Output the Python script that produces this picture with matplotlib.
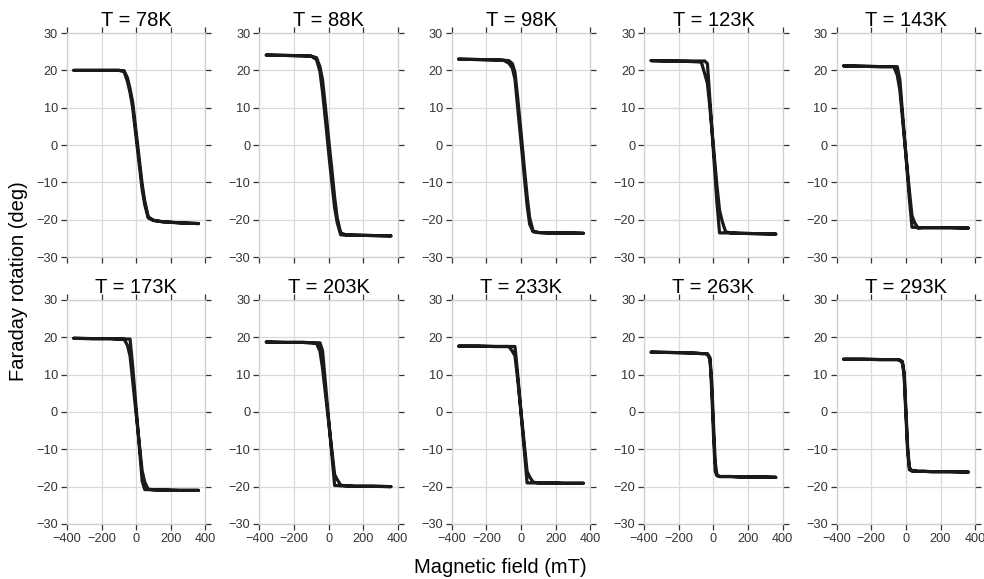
import numpy as np
import matplotlib.pyplot as plt

# temperatures of each panel (K)
temps = [78, 88, 98, 123, 143, 173, 203, 233, 263, 293]

# magnetic field sampling points (mT)
field = [-360, -250, -150, -100, -70, -50, -35, -20, -10, 0,
         10, 20, 35, 50, 70, 100, 150, 250, 360]

# Faraday rotation (deg), branch A (sharper) per temperature
rot_a = [
    [20.0, 20.0, 20.0, 20.0, 19.7, 17.0, 14.0, 10.0, 6.0, 2.0, -2.0, -6.0, -12.0, -16.0, -19.5, -20.2, -20.5, -20.8, -21.0],
    [24.1, 24.0, 23.9, 23.8, 22.9, 19.7, 14.2, 7.5, 3.0, -1.8, -6.2, -10.5, -16.8, -20.8, -24.0, -24.1, -24.1, -24.2, -24.3],
    [23.0, 22.9, 22.8, 22.7, 21.9, 20.6, 17.6, 10.4, 5.6, 0.8, -4.0, -8.9, -16.1, -21.2, -23.2, -23.4, -23.5, -23.5, -23.6],
    [22.6, 22.5, 22.5, 22.5, 22.5, 22.5, 21.8, 11.7, 4.9, -1.9, -8.7, -15.4, -23.5, -23.5, -23.5, -23.5, -23.6, -23.7, -23.8],
    [21.2, 21.1, 21.0, 21.0, 21.0, 21.0, 17.5, 8.8, 3.0, -2.8, -8.6, -14.4, -22.0, -22.0, -22.1, -22.1, -22.1, -22.1, -22.2],
    [19.7, 19.6, 19.6, 19.5, 19.5, 19.5, 19.5, 12.2, 6.6, 1.0, -4.6, -10.2, -18.6, -20.8, -20.8, -20.9, -20.9, -21.0, -21.0],
    [18.7, 18.6, 18.6, 18.5, 18.5, 18.5, 16.4, 8.6, 3.4, -1.8, -7.0, -12.0, -19.7, -19.7, -19.8, -19.8, -19.9, -19.9, -20.0],
    [17.6, 17.6, 17.5, 17.5, 17.5, 17.5, 17.5, 10.5, 5.1, -0.4, -5.7, -10.9, -19.0, -19.0, -19.0, -19.0, -19.0, -19.1, -19.1],
    [16.0, 15.9, 15.8, 15.7, 15.6, 15.6, 15.6, 14.5, 5.5, -6.0, -15.9, -17.1, -17.3, -17.3, -17.3, -17.3, -17.4, -17.4, -17.5],
    [14.1, 14.1, 14.0, 14.0, 14.0, 14.0, 13.9, 13.5, 9.3, -0.8, -10.6, -15.5, -15.8, -15.8, -15.9, -15.9, -16.0, -16.0, -16.1],
]

# branch B (rounder return sweep)
rot_b = [
    [20.0, 20.0, 20.0, 20.0, 19.9, 18.0, 15.0, 11.5, 7.5, 3.5, -0.5, -4.5, -10.5, -15.0, -19.2, -20.1, -20.5, -20.8, -21.0],
    [24.1, 24.0, 23.9, 23.8, 23.4, 21.0, 17.5, 11.0, 6.5, 1.8, -2.6, -7.0, -14.0, -19.5, -23.5, -24.0, -24.1, -24.2, -24.3],
    [23.0, 22.9, 22.8, 22.7, 22.6, 21.8, 19.5, 13.0, 8.2, 3.5, -1.5, -6.5, -13.5, -19.5, -23.0, -23.4, -23.5, -23.5, -23.6],
    [22.6, 22.5, 22.4, 22.3, 22.2, 19.0, 16.5, 9.8, 4.6, -0.5, -5.7, -10.8, -17.4, -20.3, -23.2, -23.5, -23.6, -23.7, -23.8],
    [21.2, 21.1, 21.0, 21.0, 21.0, 18.7, 14.7, 7.3, 2.4, -2.5, -7.4, -12.2, -18.9, -20.7, -22.2, -22.1, -22.1, -22.1, -22.2],
    [19.7, 19.6, 19.6, 19.5, 19.5, 17.8, 14.9, 8.3, 3.9, -0.5, -4.9, -9.3, -15.9, -18.8, -20.7, -20.8, -20.9, -21.0, -21.0],
    [18.7, 18.6, 18.6, 18.5, 18.3, 16.3, 11.7, 5.6, 1.5, -2.5, -6.6, -10.7, -16.8, -18.1, -19.6, -19.8, -19.9, -19.9, -20.0],
    [17.6, 17.6, 17.5, 17.5, 17.5, 16.2, 15.0, 9.0, 4.5, 0.0, -4.5, -9.1, -15.9, -17.4, -18.8, -19.0, -19.0, -19.1, -19.1],
    [16.0, 15.9, 15.8, 15.7, 15.6, 15.6, 15.4, 14.0, 8.0, -3.0, -13.5, -16.8, -17.3, -17.3, -17.3, -17.3, -17.4, -17.4, -17.5],
    [14.1, 14.1, 14.0, 14.0, 14.0, 14.0, 13.8, 13.0, 10.5, 0.5, -9.5, -14.8, -15.8, -15.8, -15.9, -15.9, -16.0, -16.0, -16.1],
]

plt.rcParams['font.family'] = ['Liberation Sans', 'DejaVu Sans']

fig, axes = plt.subplots(2, 5, figsize=(9.84, 5.79), dpi=100)
fig.subplots_adjust(left=0.068, right=0.991, top=0.943, bottom=0.095,
                    wspace=0.39, hspace=0.19)

field = np.array(field)
for i, ax in enumerate(axes.flat):
    a = np.array(rot_a[i])
    b = np.array(rot_b[i])
    # closed loop: sweep up along branch A, back down along branch B
    x = np.r_[field, field[::-1]]
    y = np.r_[a, b[::-1]]
    ax.plot(x, y, color='#1a1a1a', lw=2.3, solid_joinstyle='round',
            solid_capstyle='round', zorder=3)
    ax.set_xlim(-400, 400)
    ax.set_ylim(-30, 30)
    ax.set_xticks([-400, -200, 0, 200, 400])
    ax.set_yticks([-30, -20, -10, 0, 10, 20, 30])
    ax.grid(True, color='#dadada', lw=0.9)
    ax.set_axisbelow(True)
    for s in ax.spines.values():
        s.set_color('#cfcfcf')
        s.set_linewidth(0.9)
    ax.tick_params(direction='out', length=4, width=0.9, color='#333333',
                   labelsize=9.2, labelcolor='#333333', pad=2.5,
                   top=True, right=True)
    if i < 5:
        ax.tick_params(labelbottom=False)
    ax.set_title('T = %iK' % temps[i], fontsize=14.5, pad=5)

fig.text(0.508, 0.003, 'Magnetic field (mT)', ha='center', va='bottom',
         fontsize=14.5)
fig.text(0.009, 0.515, 'Faraday rotation (deg)', ha='left', va='center',
         rotation=90, fontsize=14.5)

fig.savefig('out.png', dpi=100)
